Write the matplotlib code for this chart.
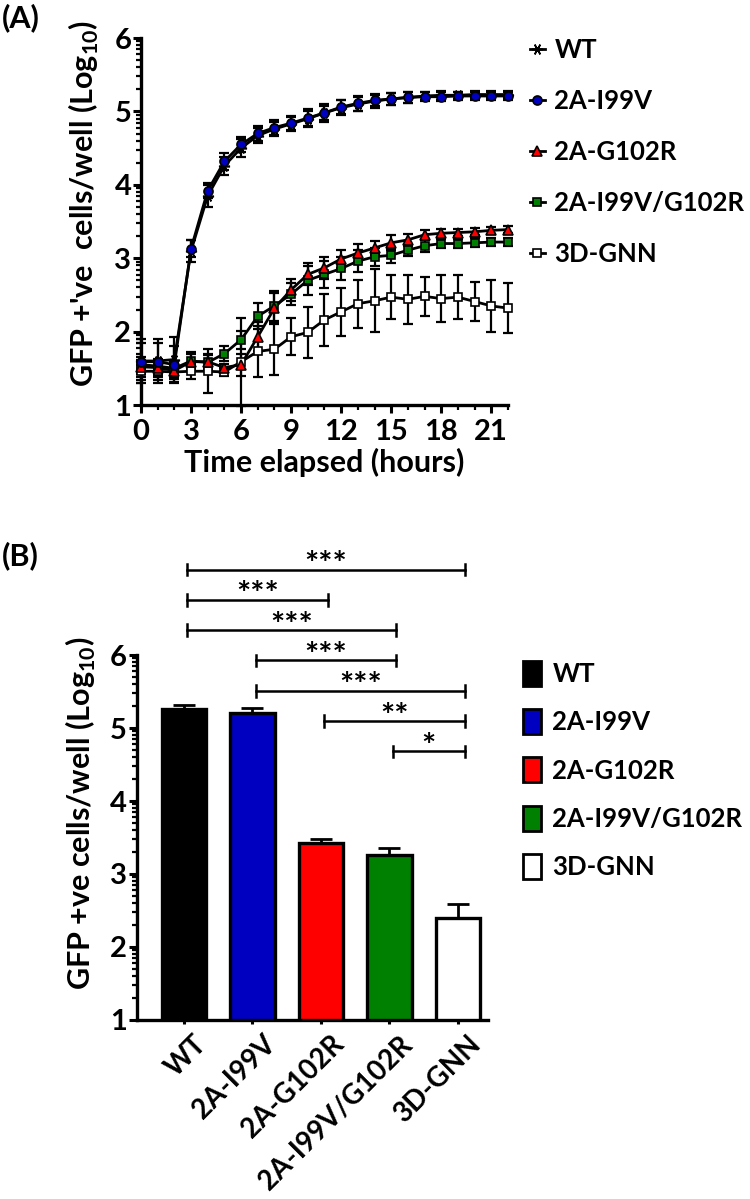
import numpy as np
import matplotlib
matplotlib.use("Agg")
import matplotlib.pyplot as plt
import matplotlib.transforms as mtransforms
from matplotlib.lines import Line2D
from matplotlib.patches import Patch
from matplotlib.ticker import FixedLocator, MultipleLocator

plt.rcParams['font.family'] = ['Lato', 'DejaVu Sans']
plt.rcParams['font.weight'] = 'bold'
plt.rcParams['axes.labelweight'] = 'bold'
plt.rcParams['mathtext.fontset'] = 'custom'
plt.rcParams['mathtext.rm'] = 'Lato:bold'
plt.rcParams['mathtext.bf'] = 'Lato:bold'

# ---- panel A: time course ----
hours = list(range(23))

wt_mean = [1.60, 1.60, 1.62, 3.10, 3.85, 4.26, 4.50, 4.67, 4.76, 4.83, 4.90, 4.98,
           5.05, 5.10, 5.14, 5.17, 5.19, 5.21, 5.22, 5.22, 5.23, 5.23, 5.23]
wt_err = [0.30, 0.30, 0.30, 0.15, 0.15, 0.12, 0.12, 0.10, 0.10, 0.10, 0.10, 0.10,
          0.10, 0.10, 0.10, 0.08, 0.08, 0.06, 0.06, 0.05, 0.05, 0.05, 0.05]

i99v_mean = [1.59, 1.59, 1.55, 3.13, 3.92, 4.32, 4.55, 4.70, 4.78, 4.84, 4.91, 4.98,
             5.06, 5.11, 5.15, 5.17, 5.19, 5.20, 5.20, 5.21, 5.21, 5.21, 5.21]
i99v_err = [0.25, 0.25, 0.25, 0.12, 0.10, 0.12, 0.10, 0.10, 0.10, 0.10, 0.12, 0.12,
            0.10, 0.10, 0.08, 0.08, 0.08, 0.06, 0.06, 0.05, 0.05, 0.05, 0.05]

g102r_mean = [1.52, 1.51, 1.47, 1.59, 1.59, 1.51, 1.55, 1.93, 2.32, 2.57, 2.78, 2.87,
              2.99, 3.07, 3.14, 3.21, 3.25, 3.32, 3.34, 3.35, 3.36, 3.38, 3.39]
g102r_err = [0.10, 0.10, 0.12, 0.10, 0.10, 0.05, 0.15, 0.20, 0.20, 0.15, 0.15, 0.15,
             0.12, 0.12, 0.10, 0.10, 0.08, 0.06, 0.06, 0.05, 0.05, 0.05, 0.05]

double_mean = [1.55, 1.53, 1.50, 1.60, 1.58, 1.70, 1.89, 2.21, 2.35, 2.51, 2.70, 2.78,
               2.86, 2.96, 3.02, 3.04, 3.11, 3.17, 3.20, 3.20, 3.21, 3.22, 3.22]
double_err = [0.10, 0.10, 0.10, 0.12, 0.10, 0.10, 0.12, 0.18, 0.20, 0.15, 0.20, 0.18,
              0.15, 0.15, 0.12, 0.10, 0.08, 0.08, 0.06, 0.06, 0.06, 0.05, 0.05]

gnn_mean = [1.46, 1.46, 1.45, 1.46, 1.46, 1.45, 1.59, 1.73, 1.76, 1.93, 1.99, 2.16,
            2.27, 2.38, 2.42, 2.47, 2.44, 2.48, 2.45, 2.47, 2.41, 2.35, 2.32]
gnn_err = [0.08, 0.08, 0.08, 0.10, 0.30, 0.05, 0.60, 0.35, 0.35, 0.25, 0.35, 0.35,
           0.33, 0.33, 0.43, 0.30, 0.33, 0.27, 0.32, 0.30, 0.27, 0.35, 0.34]

# ---- panel B: endpoint bars ----
groups = ["WT", "2A-I99V", "2A-G102R", "2A-I99V/G102R", "3D-GNN"]
bar_mean = [5.26, 5.21, 3.43, 3.26, 2.40]
bar_sem = [0.05, 0.07, 0.05, 0.09, 0.19]
comparisons = [(0, 4, "***"), (0, 2, "***"), (0, 3, "***"), (1, 3, "***"),
               (1, 4, "***"), (2, 4, "**"), (3, 4, "*")]

colors = ["black", "#0000c0", "#ff0000", "#008000", "white"]

fig = plt.figure(figsize=(7.5, 11.99), dpi=100)

# log-style minor ticks within each decade
minor_y = [n + np.log10(k) for n in range(1, 6) for k in range(2, 10)]


def style_axis(ax):
    for s in ["top", "right"]:
        ax.spines[s].set_visible(False)
    for s in ["left", "bottom"]:
        ax.spines[s].set_linewidth(2.4)
    ax.set_ylim(1, 6)
    ax.set_yticks([1, 2, 3, 4, 5, 6])
    ax.yaxis.set_minor_locator(FixedLocator(minor_y))
    ax.tick_params(which="major", length=6, width=2.2, labelsize=21, pad=1)
    ax.tick_params(which="minor", length=3.5, width=1.6)


# panel A
axA = fig.add_axes([0.188, 0.6622, 0.4893, 0.3061])
series = [
    ("3D-GNN", gnn_mean, gnn_err, "s", "white", 6),
    ("2A-I99V/G102R", double_mean, double_err, "s", "#008000", 6),
    ("2A-G102R", g102r_mean, g102r_err, "^", "#ff0000", 6.5),
    ("WT", wt_mean, wt_err, (6, 2, 90), "black", 8),
    ("2A-I99V", i99v_mean, i99v_err, "o", "#0000c0", 6.5),
]
handles = {}
for name, m, e, mk, c, ms in series:
    axA.errorbar(hours, m, yerr=e, color="black", lw=2.0, elinewidth=1.6,
                 capsize=3.5, capthick=1.6, zorder=2, clip_on=False)
    axA.plot(hours, m, ls="none", marker=mk, ms=ms, mfc=c, mec="black", mew=1.2,
             zorder=3, clip_on=False)
    handles[name] = Line2D([0], [0], color="black", lw=2.0, marker=mk, ms=ms,
                           mfc=c, mec="black", mew=1.2)

style_axis(axA)
axA.set_xlim(0, 22)
axA.xaxis.set_major_locator(MultipleLocator(3))
axA.xaxis.set_minor_locator(MultipleLocator(1))
axA.tick_params(axis="x", which="major", pad=4)
axA.set_xlabel("Time elapsed (hours)", fontsize=22, labelpad=2)
axA.set_ylabel("GFP +'ve  cells/well (Log$_{10}$)", fontsize=22)
axA.yaxis.set_label_coords(-0.11, 0.55)

order = ["WT", "2A-I99V", "2A-G102R", "2A-I99V/G102R", "3D-GNN"]
fig.legend([handles[k] for k in order], order, loc="upper left",
           bbox_to_anchor=(0.706, 0.968), frameon=False, fontsize=18.5,
           handlelength=0.62, handletextpad=0.35, labelspacing=1.05,
           borderpad=0, borderaxespad=0)

fig.text(0.003, 0.997, "(A)", fontsize=22, va="top", ha="left")

# panel B
axB = fig.add_axes([0.1822, 0.1493, 0.4684, 0.3044])
x = np.arange(len(groups))
axB.bar(x, bar_mean, width=0.65, bottom=0, color=colors, edgecolor="black",
        linewidth=2.4, zorder=2)
axB.errorbar(x, bar_mean, yerr=[np.zeros(len(bar_sem)), bar_sem], fmt="none",
             ecolor="black", elinewidth=2.0, capsize=8, capthick=2.0, zorder=1)
style_axis(axB)
axB.set_xlim(-0.69, 4.44)
axB.set_xticks(x)
axB.set_xticklabels(groups, rotation=45, ha="right", va="top",
                    rotation_mode="anchor", fontsize=20)
axB.tick_params(axis="x", which="major", length=3, pad=5)
axB.tick_params(axis="x", which="minor", length=0)
shift = mtransforms.ScaledTranslation(7 / 72, 0, fig.dpi_scale_trans)
for lab in axB.get_xticklabels():
    lab.set_transform(lab.get_transform() + shift)
axB.set_ylabel("GFP +ve cells/well (Log$_{10}$)", fontsize=22)
axB.yaxis.set_label_coords(-0.11, 0.567)

top_level = 7.17
step = 0.415
for k, (i, j, stars) in enumerate(comparisons):
    yb = top_level - k * step
    x0 = i + 0.05
    x1 = j + 0.1
    axB.plot([x0, x1], [yb, yb], color="black", lw=1.8, clip_on=False)
    for xe in (x0, x1):
        axB.plot([xe, xe], [yb - 0.08, yb + 0.08], color="black", lw=1.8,
                 clip_on=False)
    axB.annotate(stars, xy=((x0 + x1) / 2, yb), xytext=(0, -4),
                 textcoords="offset points", ha="center", va="baseline",
                 fontsize=24, annotation_clip=False)

legB = [Patch(facecolor=c, edgecolor="black", linewidth=2.0) for c in colors]
fig.legend(legB, groups, loc="upper left", bbox_to_anchor=(0.697, 0.449),
           frameon=False, fontsize=18.5, handlelength=0.7, handleheight=1.12,
           handletextpad=0.45, labelspacing=0.9, borderpad=0, borderaxespad=0)

fig.text(0.003, 0.549, "(B)", fontsize=22, va="top", ha="left")

fig.savefig("out.png", dpi=100)
